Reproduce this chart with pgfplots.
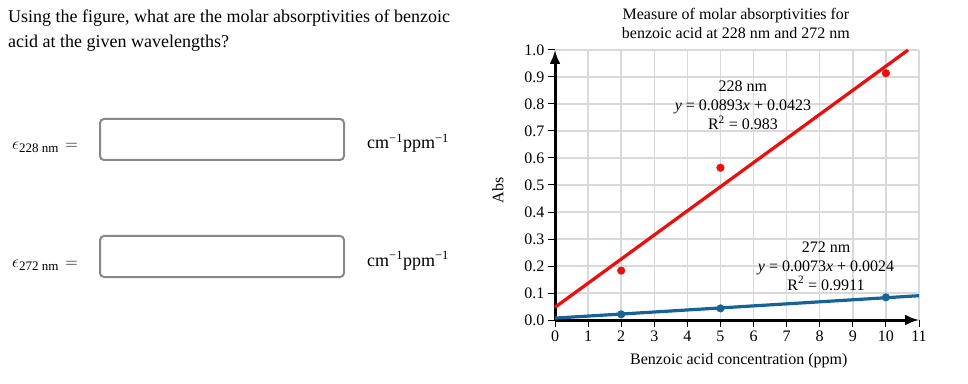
\documentclass[border=0pt]{standalone}
\usepackage{fontspec}
\setmainfont{Liberation Serif}
\usepackage{pgfplots}
\pgfplotsset{compat=1.18}
\usetikzlibrary{arrows.meta}
\definecolor{myred}{RGB}{245,10,10}
\definecolor{myblue}{RGB}{20,100,155}
\definecolor{boxgray}{RGB}{136,136,136}
\definecolor{gridgray}{RGB}{217,217,217}
\newcommand{\bigf}{\fontsize{18}{22}\selectfont}
\newcommand{\midf}{\fontsize{16}{19}\selectfont}
\begin{document}
\begin{tikzpicture}[x=1pt,y=1pt]
\useasboundingbox (0,0) rectangle (968,383);
% question text
\node[anchor=base west, inner sep=0, font=\bigf] at (8,360) {Using the figure, what are the molar absorptivities of benzoic};
\node[anchor=base west, inner sep=0, font=\bigf] at (8,335) {acid at the given wavelengths?};
% labels
\node[anchor=base west, inner sep=0, font=\bigf] at (12,233) {$\epsilon$\raisebox{-3pt}{\fontsize{13}{15}\selectfont 228 nm}\hspace{7pt}$=$};
\node[anchor=base west, inner sep=0, font=\bigf] at (12,116) {$\epsilon$\raisebox{-3pt}{\fontsize{13}{15}\selectfont 272 nm}\hspace{7pt}$=$};
% boxes
\draw[boxgray, line width=2, rounded corners=4] (100,264) rectangle (344,223);
\draw[boxgray, line width=2, rounded corners=4] (100,147) rectangle (344,106);
% units
\node[anchor=base west, inner sep=0, font=\bigf] at (367,234) {cm\textsuperscript{\char"2212 1}ppm\textsuperscript{\char"2212 1}};
\node[anchor=base west, inner sep=0, font=\bigf] at (367,117) {cm\textsuperscript{\char"2212 1}ppm\textsuperscript{\char"2212 1}};
\begin{axis}[
  at={(555pt,63pt)}, anchor=south west,
  scale only axis, width=364pt, height=270pt,
  xmin=0, xmax=11, ymin=0, ymax=1,
  axis lines=left,
  axis line style={line width=3pt, -{Latex[length=14pt,width=11pt]}},
  xtick={0,1,...,11},
  ytick={0,0.1,0.2,0.3,0.4,0.5,0.6,0.7,0.8,0.9,1.0},
  grid=major,
  major grid style={gridgray, line width=1.5pt},
  tick align=outside,
  major tick length=7pt,
  tick style={black, line width=1pt},
  /pgf/number format/assume math mode=true,
  ticklabel style={font=\midf},
  yticklabel style={/pgf/number format/fixed, /pgf/number format/fixed zerofill, /pgf/number format/precision=1},
  xticklabel style={/pgf/number format/fixed},
  title={Measure of molar absorptivities for\\benzoic acid at 228 nm and 272 nm},
  title style={font=\midf, align=center, at={(axis description cs:0.497,1.077)}, anchor=center},
  xlabel={Benzoic acid concentration (ppm)},
  xlabel style={font=\midf, at={(axis description cs:0.505,-0.152)}, anchor=center},
  ylabel={Abs},
  ylabel style={font=\midf, at={(axis description cs:-0.157,0.48)}, anchor=center},
  clip=false,
]
\addplot[myred, line width=3.2pt] coordinates {(0,0.047) (10.67,1.0)};
\addplot[myblue, line width=3.2pt] coordinates {(0,0.007) (11,0.09)};
\addplot[only marks, mark=*, mark size=3.8pt, myred] coordinates {(2,0.183) (5,0.564) (10,0.914)};
\addplot[only marks, mark=*, mark size=3.8pt, myblue] coordinates {(2,0.021) (5,0.043) (10,0.084)};
\node[font=\midf, align=center] at (axis cs:5.68,0.796) {228 nm\\\textit{y} = 0.0893\textit{x} + 0.0423\\R\textsuperscript{2} = 0.983};
\node[font=\midf, align=center] at (axis cs:8.19,0.2) {272 nm\\\textit{y} = 0.0073\textit{x} + 0.0024\\R\textsuperscript{2} = 0.9911};
\end{axis}
\end{tikzpicture}
\end{document}
